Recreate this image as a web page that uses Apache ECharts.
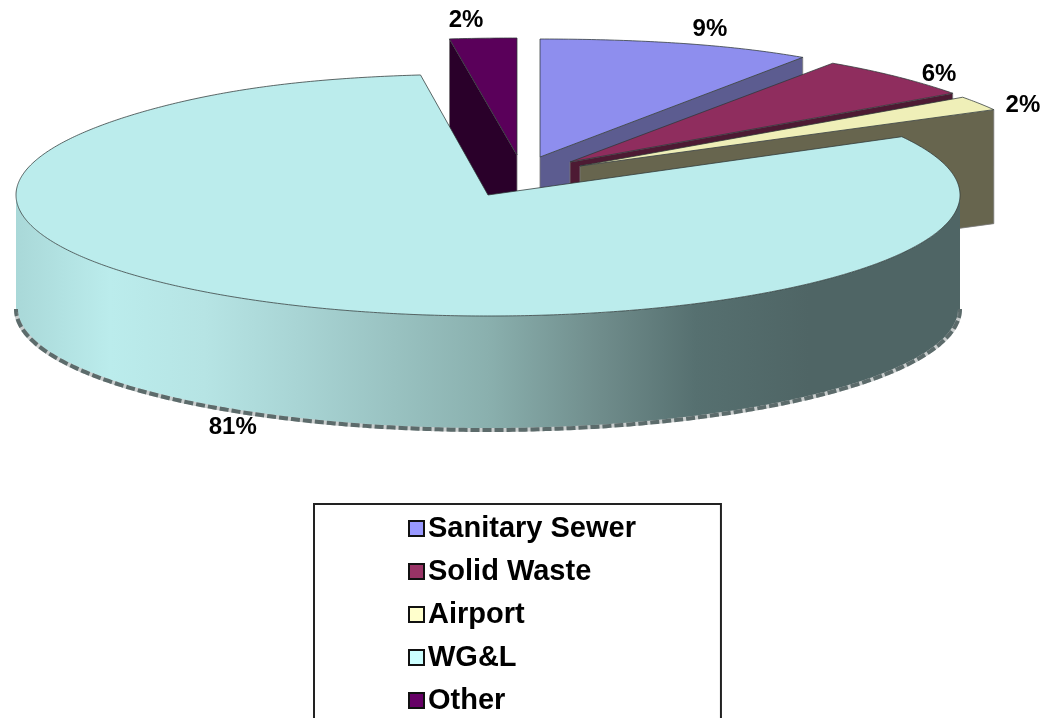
<!DOCTYPE html>
<html>
<head>
<meta charset="utf-8">
<style>html,body{margin:0;padding:0;background:#fff}#chart{width:1045px;height:718px}</style>
<script src="https://cdn.jsdelivr.net/npm/echarts@6/dist/echarts.min.js"></script>
</head>
<body>
<div id="chart"></div>
<script>
// Share of the total by fund, in percent
const categories = ['Sanitary Sewer', 'Solid Waste', 'Airport', 'WG&L', 'Other'];
const shares = [9, 6, 2, 81, 2];

// Face and wall colours for each slice
const legendColors = ['#9999FF', '#993366', '#FFFFCC', '#CCFFFF', '#660066'];
const faceColors = ['#8E8EEE', '#8F2D5E', '#EFEFB8', '#BBECEC', '#5A005A'];
const wallColors = ['#5C5C90', '#4D1A33', '#67654E', '#4F6565', '#2A002A'];

// Projection of the tilted disc
const disc = { cx: 488, cy: 195, rx: 472, depth: 114, flare: 0.15 };
// Vertical radius of each slice after the tilt
const sliceRy = [118, 117, 117, 121, 117];
// Pixel shift of each exploded slice's apex
const explode = [[52, -38], [82, -33], [92, -29], [0, 0], [29, -40]];
// Label offset from the slice rim at its middle angle
const labelShift = [[24, -14], [42, -2], [44, 2], [-41, 125], [-17, -18]];
// Slices are painted from back to front
const paintOrder = [4, 0, 1, 2, 3];

const total = shares.reduce((a, b) => a + b, 0);
const startAngle = i => shares.slice(0, i).reduce((a, b) => a + b, 0) / total * 360;

function rimPoint(i, deg) {
  const t = deg * Math.PI / 180;
  const c = Math.cos(t);
  const widen = c > 0 ? 1 + disc.flare * Math.pow(c, 8) : 1;
  return [
    disc.cx + explode[i][0] + disc.rx * widen * Math.sin(t),
    disc.cy + explode[i][1] - sliceRy[i] * c
  ];
}
const apex = i => [disc.cx + explode[i][0], disc.cy + explode[i][1]];
const drop = p => [p[0], p[1] + disc.depth];

function arcPoints(i, from, to) {
  const pts = [];
  const steps = Math.max(2, Math.ceil(Math.abs(to - from) * 2));
  for (let s = 0; s <= steps; s++) pts.push(rimPoint(i, from + (to - from) * s / steps));
  return pts;
}

const edge = { stroke: 'rgba(45,55,55,0.75)', lineWidth: 1 };

function renderSlice(i) {
  const a0 = startAngle(i);
  const a1 = a0 + shares[i] / total * 360;
  const mid = (a0 + a1) / 2;
  const children = [];

  // Radial wall facing the viewer
  const wallDeg = mid < 180 ? a1 : a0;
  const corner = rimPoint(i, wallDeg);
  if (i !== 3) {
    children.push({
      type: 'polygon',
      shape: { points: [apex(i), corner, drop(corner), drop(apex(i))] },
      style: { fill: wallColors[i], stroke: 'rgba(120,120,120,0.8)', lineWidth: 1 }
    });
  }

  // Outer wall of the front half of the rim, shaded left to right
  const frontFrom = Math.max(a0, 90);
  const frontTo = Math.min(a1, 270);
  if (frontTo > frontFrom) {
    const rim = arcPoints(i, frontFrom, frontTo);
    const low = rim.map(drop);
    children.push({
      type: 'polygon',
      shape: { points: rim.concat(low.slice().reverse()) },
      style: {
        fill: {
          type: 'linear', x: 0, y: 0, x2: 1, y2: 0,
          colorStops: [
            { offset: 0, color: '#A9D8D8' },
            { offset: 0.1, color: '#BBECEC' },
            { offset: 0.2, color: '#B6E4E4' },
            { offset: 0.3, color: '#A8D4D4' },
            { offset: 0.5, color: '#8AB0AE' },
            { offset: 0.62, color: '#6F8C8B' },
            { offset: 0.72, color: '#567070' },
            { offset: 0.84, color: '#4F6565' },
            { offset: 1, color: '#4F6565' }
          ]
        }
      }
    });
    children.push({
      type: 'polyline',
      shape: { points: low },
      style: { stroke: '#C9CDCD', lineWidth: 4, fill: 'none' }
    });
    children.push({
      type: 'polyline',
      shape: { points: low },
      style: { stroke: '#5C6B6B', lineWidth: 4, fill: 'none', lineDash: [9, 3] }
    });
  }

  // Top face
  children.push({
    type: 'polygon',
    shape: { points: [apex(i)].concat(arcPoints(i, a0, a1)) },
    style: Object.assign({ fill: faceColors[i] }, edge)
  });

  // Percentage label
  const rim = rimPoint(i, mid);
  children.push({
    type: 'text',
    z2: 10,
    style: {
      text: shares[i] + '%',
      x: rim[0] + labelShift[i][0],
      y: rim[1] + labelShift[i][1],
      align: 'center',
      verticalAlign: 'middle',
      font: 'bold 24px "Liberation Sans", Arial, sans-serif',
      fill: '#000'
    }
  });
  return { type: 'group', children };
}

const option = {
  animation: false,
  backgroundColor: '#fff',
  legend: {
    show: true,
    orient: 'vertical',
    left: 314,
    top: 504,
    height: 400,
    selectedMode: false,
    align: 'left',
    borderColor: '#222',
    borderWidth: 2,
    padding: [8, 85, 30, 94],
    itemWidth: 15,
    itemHeight: 15,
    itemGap: 10,
    textStyle: {
      fontFamily: '"Liberation Sans", Arial, sans-serif',
      fontWeight: 'bold',
      fontSize: 29,
      lineHeight: 33,
      color: '#000',
      padding: [0, 0, 0, -1]
    },
    data: categories.map((name, i) => ({
      name,
      icon: 'rect',
      itemStyle: { color: legendColors[i], borderColor: '#111', borderWidth: 2 }
    }))
  },
  series: paintOrder.map(i => ({
    type: 'custom',
    name: categories[i],
    coordinateSystem: 'none',
    z: 2,
    silent: true,
    data: [shares[i]],
    itemStyle: { color: legendColors[i] },
    renderItem: () => renderSlice(i)
  }))
};

echarts.init(document.getElementById('chart'), null, { renderer: 'canvas' }).setOption(option);
</script>
</body>
</html>
